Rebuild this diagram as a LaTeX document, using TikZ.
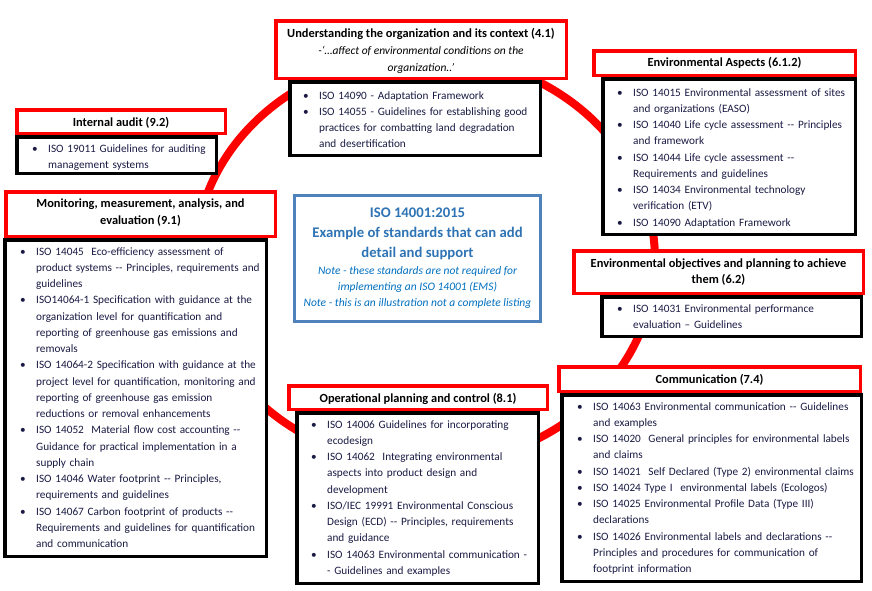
\documentclass[tikz,border=0pt]{standalone}
\usepackage{fontspec}
\setmainfont{Carlito}
\definecolor{bodytxt}{HTML}{1A1A44}
\definecolor{boxblue}{HTML}{4F81BD}
\definecolor{ttlblue}{HTML}{2E74B5}
\definecolor{noteblue}{HTML}{0070C0}
\newcommand{\bul}{\par\noindent\hangindent=16pt\hangafter=1\strut\makebox[16pt][l]{\textbullet}}
\newcommand{\dd}{-{}-}
\tikzset{
  redbox/.style={draw=red, line width=3.5pt, fill=white, inner sep=0pt, outer sep=0pt, anchor=north west},
  blackbox/.style={draw=black, line width=3.5pt, fill=white, inner sep=0pt, outer sep=0pt, anchor=north west},
  bluebox/.style={draw=boxblue, line width=3pt, fill=white, inner sep=0pt, outer sep=0pt, anchor=north west},
  ttl/.style={font=\fontsize{12.4}{16.5}\selectfont\bfseries, text=black, inner sep=0pt, anchor=base},
  itl/.style={font=\fontsize{11.5}{16.4}\selectfont\itshape, text=black, inner sep=0pt, anchor=base},
  lst/.style={font=\fontsize{11.25}{16.25}\selectfont\setlength{\parskip}{0pt}, text=bodytxt, text width=300pt, align=left, inner sep=0pt, anchor=north west},
  ctitle/.style={font=\fontsize{14.7}{20}\selectfont\bfseries, text=ttlblue, inner sep=0pt, anchor=base},
  cnote/.style={font=\fontsize{11.5}{16}\selectfont\itshape, text=noteblue, inner sep=0pt, anchor=base},
  ring/.style={draw=red, line width=8pt}
}
\begin{document}
\begin{tikzpicture}[x=1pt,y=-1pt]
\useasboundingbox (0,0) rectangle (872,590);
% ring
\draw[ring] (425,260) ellipse [x radius=230pt, y radius=205pt];
% boxes
\node[redbox, minimum width=290.5pt, minimum height=57.5pt] (r1) at (275.75,20.75) {};
\node[blackbox, minimum width=250.5pt, minimum height=73.5pt] (k1) at (289.75,81.75) {};
\node[redbox, minimum width=261.5pt, minimum height=24.5pt] (r2) at (593.75,50.75) {};
\node[blackbox, minimum width=252.5pt, minimum height=155.5pt] (k2) at (602.75,78.75) {};
\node[redbox, minimum width=208.5pt, minimum height=23.5pt] (r3) at (16.75,109.75) {};
\node[blackbox, minimum width=199.5pt, minimum height=36.5pt] (k3) at (16.75,136.75) {};
\node[redbox, minimum width=269.5pt, minimum height=44.5pt] (r4) at (5.75,191.75) {};
\node[blackbox, minimum width=261.5pt, minimum height=316.5pt] (k4) at (4.75,239.75) {};
\node[bluebox, minimum width=246pt, minimum height=126pt] (b5) at (294.5,195.5) {};
\node[redbox, minimum width=289.5pt, minimum height=42.5pt] (r6) at (573.75,250.75) {};
\node[blackbox, minimum width=259.5pt, minimum height=39.5pt] (k6) at (601.75,296.75) {};
\node[redbox, minimum width=258.5pt, minimum height=23.5pt] (r7) at (288.75,385.75) {};
\node[blackbox, minimum width=241.5pt, minimum height=170.5pt] (k7) at (296.75,412.75) {};
\node[redbox, minimum width=301.5pt, minimum height=24.5pt] (r8) at (558.75,366.75) {};
\node[blackbox, minimum width=299.5pt, minimum height=186.5pt] (k8) at (561.75,394.75) {};
% titles
\node[ttl] (t1) at (421,37) {Understanding the organization and its context (4.1)};
\node[itl] (t1a) at (421,54) {-‘…affect of environmental conditions on the};
\node[itl] (t1b) at (421,71) {organization..’};
\node[ttl] (t2) at (724.5,66) {Environmental Aspects (6.1.2)};
\node[ttl] (t3) at (121,126) {Internal audit (9.2)};
\node[ttl] (t4a) at (140.5,207) {Monitoring, measurement, analysis, and};
\node[ttl] (t4b) at (140.5,224) {evaluation (9.1)};
\node[ttl] (t6a) at (718.5,267.5) {Environmental objectives and planning to achieve};
\node[ttl] (t6b) at (718.5,283.5) {them (6.2)};
\node[ttl] (t7) at (418,402) {Operational planning and control (8.1)};
\node[ttl] (t8) at (709.5,383) {Communication (7.4)};
% centre box
\node[ctitle] (c1) at (417.5,217) {ISO 14001:2015};
\node[ctitle] (c2) at (417.5,237) {Example of standards that can add};
\node[ctitle] (c3) at (417.5,257) {detail and support};
\node[cnote] (c4) at (417.5,274) {Note - these standards are not required for};
\node[cnote] (c5) at (417.5,290.3) {implementing an ISO 14001 (EMS)};
\node[cnote] (c6) at (417.5,306.6) {Note - this is an illustration not a complete listing};
% lists
\node[lst] (l1) at (303,82.7) {%
\bul ISO 14090 - Adaptation Framework
\bul ISO 14055 - Guidelines for establishing good\newline practices for combatting land degradation\newline and desertification\par};
\node[lst] (l2) at (617,79.7) {%
\bul ISO 14015 Environmental assessment of sites\newline and organizations (EASO)
\bul ISO 14040 Life cycle assessment \dd\ Principles\newline and framework
\bul ISO 14044 Life cycle assessment \dd\newline Requirements and guidelines
\bul ISO 14034 Environmental technology\newline verification (ETV)
\bul ISO 14090 Adaptation Framework\par};
\node[lst] (l3) at (32,135.7) {%
\bul ISO 19011 Guidelines for auditing\newline management systems\par};
\node[lst] (l4) at (20,238.7) {%
\bul ISO 14045\ \ Eco-efficiency assessment of\newline product systems \dd\ Principles, requirements and\newline guidelines
\bul ISO14064-1 Specification with guidance at the\newline organization level for quantification and\newline reporting of greenhouse gas emissions and\newline removals
\bul ISO 14064-2 Specification with guidance at the\newline project level for quantification, monitoring and\newline reporting of greenhouse gas emission\newline reductions or removal enhancements
\bul ISO 14052\ \ Material flow cost accounting \dd\newline Guidance for practical implementation in a\newline supply chain
\bul ISO 14046 Water footprint \dd\ Principles,\newline requirements and guidelines
\bul ISO 14067 Carbon footprint of products \dd\newline Requirements and guidelines for quantification\newline and communication\par};
\node[lst] (l6) at (617,295.7) {%
\bul ISO 14031 Environmental performance\newline evaluation – Guidelines\par};
\node[lst] (l7) at (311,411.7) {%
\bul ISO 14006 Guidelines for incorporating\newline ecodesign
\bul ISO 14062\ \ Integrating environmental\newline aspects into product design and\newline development
\bul ISO/IEC 19991 Environmental Conscious\newline Design (ECD) \dd\ Principles, requirements\newline and guidance
\bul ISO 14063 Environmental communication -\newline - Guidelines and examples\par};
\node[lst] (l8) at (577,393.7) {%
\bul ISO 14063 Environmental communication \dd\ Guidelines\newline and examples
\bul ISO 14020\ \ General principles for environmental labels\newline and claims
\bul ISO 14021\ \ Self Declared (Type 2) environmental claims
\bul ISO 14024 Type I\ \ environmental labels (Ecologos)
\bul ISO 14025 Environmental Profile Data (Type III)\newline declarations
\bul ISO 14026 Environmental labels and declarations \dd\newline Principles and procedures for communication of\newline footprint information\par};
\end{tikzpicture}
\end{document}
